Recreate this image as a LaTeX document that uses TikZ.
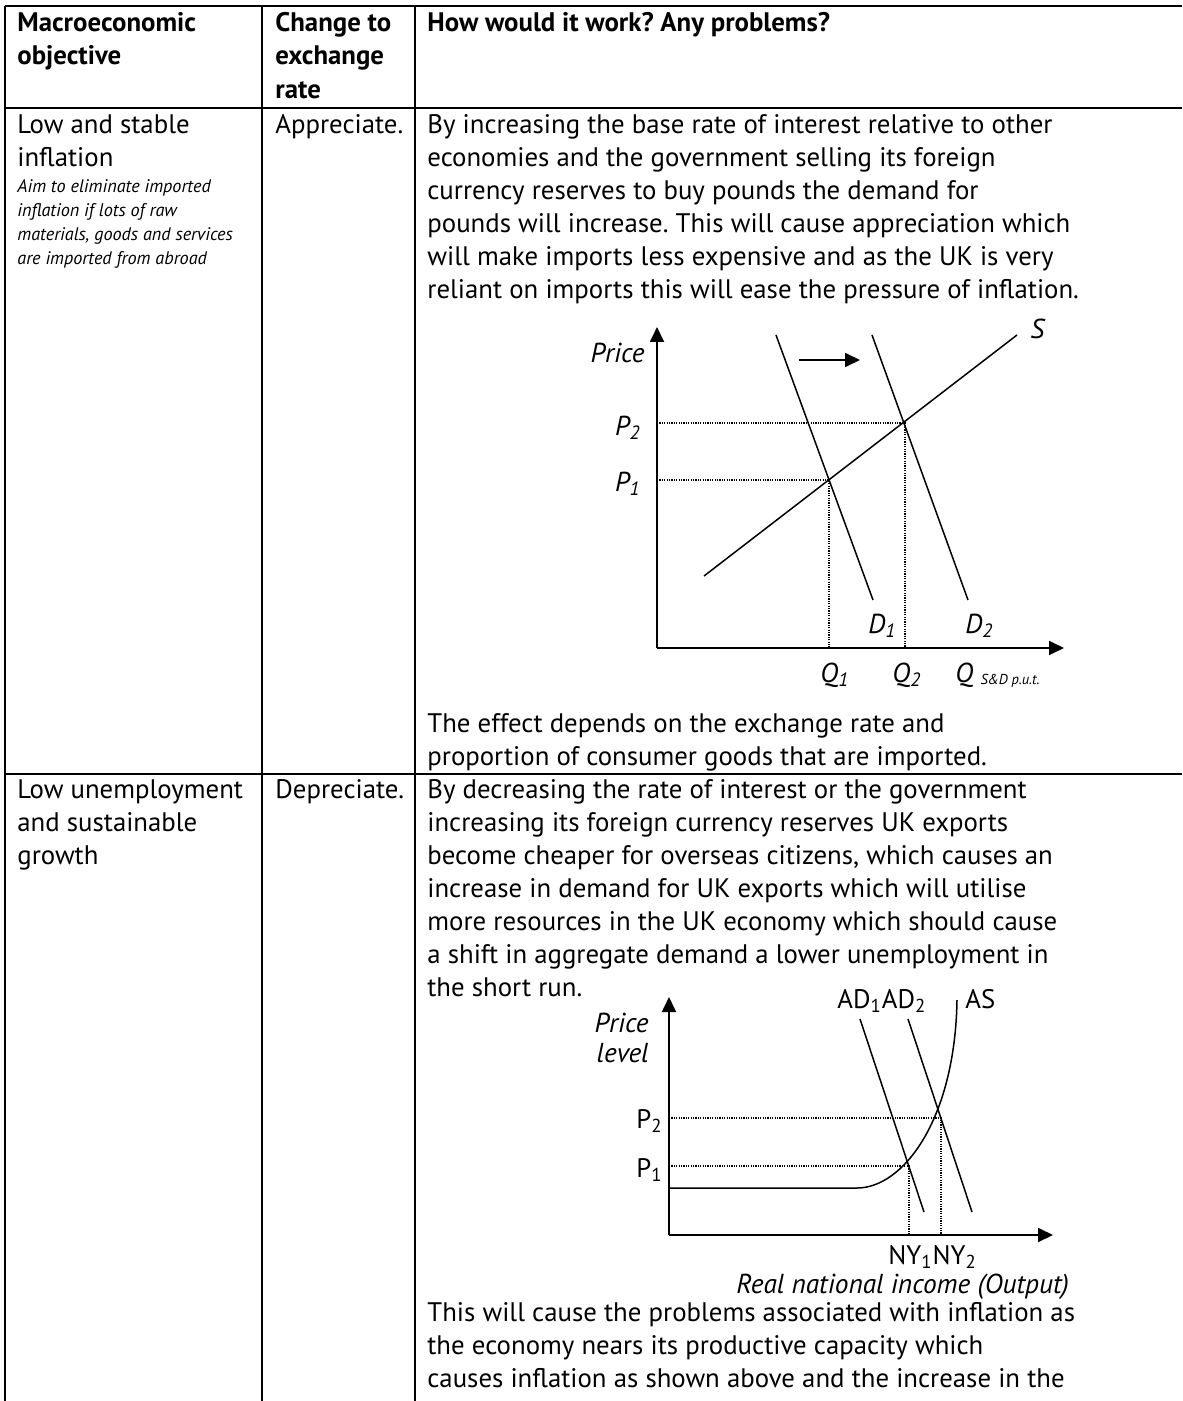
\documentclass[tikz,border=0pt]{standalone}
\usepackage{fontspec}
\setmainfont{PT Sans}
\usetikzlibrary{arrows.meta}
\frenchspacing

\begin{document}
\begin{tikzpicture}[x=0.5pt,y=-0.5pt,
  rule/.style={line width=1pt},
  hd/.style={font=\fontsize{13.4}{16}\selectfont\bfseries, anchor=base west, inner sep=0pt},
  txt/.style={font=\fontsize{13.4}{16}\selectfont, anchor=base west, inner sep=0pt},
  note/.style={font=\fontsize{9.1}{11}\selectfont\itshape, anchor=base west, inner sep=0pt},
  lab/.style={font=\fontsize{13.7}{16}\selectfont\itshape, inner sep=0pt},
  lab2/.style={font=\fontsize{13.4}{16}\selectfont, inner sep=0pt},
  curve/.style={line width=0.75pt},
  guide/.style={line width=0.6pt, dash pattern=on 0.6pt off 0.6pt},
  axis/.style={line width=0.9pt, -{Triangle[length=7.5pt,width=7pt]}}
]
\useasboundingbox (0,0) rectangle (1182,1401);

% table rules
\draw[rule] (5,6) -- (1182,6);
\draw[rule] (5,108) -- (1182,108);
\draw[rule] (5,774) -- (1182,774);
\draw[rule] (5,6) -- (5,1401);
\draw[rule] (262,6) -- (262,1401);
\draw[rule] (415,6) -- (415,1401);

% header
\foreach \y/\t [count=\i] in {32/Macroeconomic, 65/objective} {
  \node[hd] (hobj\i) at (17,\y) {\t};
}
\foreach \y/\t [count=\i] in {32/Change to, 65/exchange, 99/rate} {
  \node[hd] (hchg\i) at (275,\y) {\t};
}
\node[hd] (hhow) at (427,32) {How would it work? Any problems?};

% row 1
\node[txt] (inf1) at (17,134) {Low and stable};
\node[txt] (inf2) at (17,167) {inflation};
\foreach \y/\t [count=\i] in {
  193/Aim to eliminate imported,
  217/inflation if lots of raw,
  241/{materials, goods and services},
  265/are imported from abroad
} {
  \node[note] (aim\i) at (17,\y) {\t};
}
\node[txt] (appr) at (275,134) {Appreciate.};
\foreach \y/\t [count=\i] in {
  134/By increasing the base rate of interest relative to other,
  167/economies and the government selling its foreign,
  200/currency reserves to buy pounds the demand for,
  233/pounds will increase. This will cause appreciation which,
  266/will make imports less expensive and as the UK is very,
  299/reliant on imports this will ease the pressure of inflation.,
  732/The effect depends on the exchange rate and,
  765/proportion of consumer goods that are imported.
} {
  \node[txt] (ra\i) at (427,\y) {\t};
}

% supply and demand for pounds
\coordinate (o1) at (657,648);
\coordinate (yt1) at (657,327);
\coordinate (xt1) at (1064,648);
\coordinate (e1) at (829,480);
\coordinate (e2) at (905,423);
\draw[axis] (o1) -- (yt1);
\draw[axis] (o1) -- (xt1);
\draw[guide] (o1 |- e2) -- (e2) -- (e2 |- o1);
\draw[guide] (o1 |- e1) -- (e1) -- (e1 |- o1);
\draw[curve] (704,576) coordinate (s0) -- (1017,335) coordinate (s1);
\draw[curve] (776,335) coordinate (da0) -- (873,600) coordinate (da1);
\draw[curve] (872,335) coordinate (db0) -- (968,600) coordinate (db1);
\draw[axis] (799,360) coordinate (sh0) -- (860,360) coordinate (sh1);
\node[lab, anchor=base east] (pr1) at (645,363) {Price};
\node[lab, anchor=base east] (p2a) at (641,435) {P\textsubscript{2}};
\node[lab, anchor=base east] (p1a) at (641,491) {P\textsubscript{1}};
\node[lab, anchor=base west] (q1a) at (820,682) {Q\textsubscript{1}};
\node[lab, anchor=base west] (q2a) at (892,682) {Q\textsubscript{2}};
\node[lab, anchor=base west] (qsd) at (955,682) {Q \raisebox{-1pt}{\fontsize{7.2}{8}\selectfont S\&D p.u.t.}};
\node[lab, anchor=base west] (d1a) at (868,633) {D\textsubscript{1}};
\node[lab, anchor=base west] (d2a) at (965,633) {D\textsubscript{2}};
\node[lab, anchor=base west] (sa) at (1030,338) {S};

% row 2
\foreach \y/\t [count=\i] in {798/Low unemployment, 831/and sustainable, 864/growth} {
  \node[txt] (unemp\i) at (17,\y) {\t};
}
\node[txt] (depr) at (275,798) {Depreciate.};
\foreach \y/\t [count=\i] in {
  798/By decreasing the rate of interest or the government,
  831/increasing its foreign currency reserves UK exports,
  864/{become cheaper for overseas citizens, which causes an},
  897/increase in demand for UK exports which will utilise,
  930/more resources in the UK economy which should cause,
  963/a shift in aggregate demand a lower unemployment in,
  996/the short run.,
  1321/This will cause the problems associated with inflation as,
  1354/the economy nears its productive capacity which,
  1387/causes inflation as shown above and the increase in the
} {
  \node[txt] (rb\i) at (427,\y) {\t};
}

% AD/AS
\coordinate (o2) at (669,1235);
\coordinate (yt2) at (669,997);
\coordinate (xt2) at (1053,1235);
\coordinate (f1) at (909,1166);
\coordinate (f2) at (941,1118);
\draw[axis] (o2) -- (yt2);
\draw[axis] (o2) -- (xt2);
\draw[guide] (o2 |- f2) -- (f2) -- (f2 |- o2);
\draw[guide] (o2 |- f1) -- (f1) -- (f1 |- o2);
\draw[curve] (669,1188) -- (857,1188) .. controls (903,1188) and (955,1120) .. (957,1000);
\draw[curve] (860,1019) coordinate (ad1a) -- (924,1212) coordinate (ad1b);
\draw[curve] (908,1019) coordinate (ad2a) -- (972,1212) coordinate (ad2b);
\node[lab, anchor=base east] (pr2a) at (649,1032) {Price};
\node[lab, anchor=base east] (pr2b) at (649,1062) {level};
\node[lab2, anchor=base east] (p2b) at (663,1128) {P\textsubscript{2}};
\node[lab2, anchor=base east] (p1b) at (663,1177) {P\textsubscript{1}};
\node[lab2, anchor=base west] (adl) at (837,1008) {AD\textsubscript{1}AD\textsubscript{2}};
\node[lab2, anchor=base west] (asl) at (965,1008) {AS};
\node[lab2, anchor=base west] (nyl) at (888,1264) {NY\textsubscript{1}NY\textsubscript{2}};
\node[lab, anchor=base west] (rni) at (736,1293) {Real national income (Output)};
\end{tikzpicture}
\end{document}
